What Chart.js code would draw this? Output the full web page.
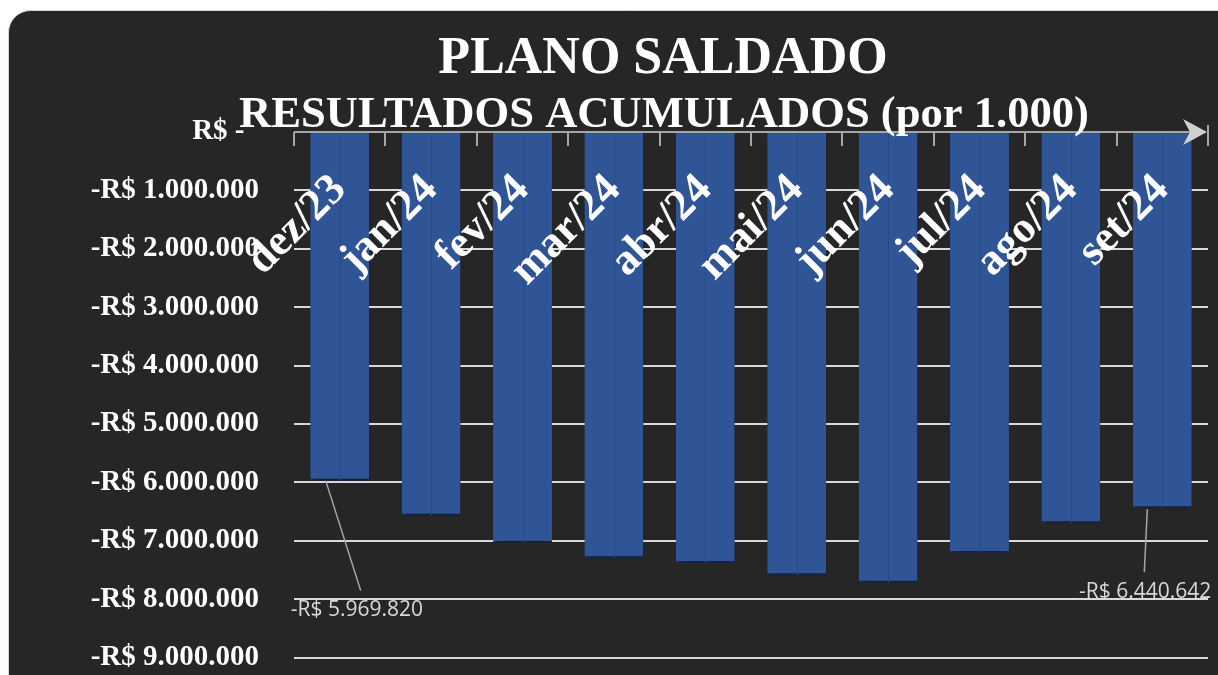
<!DOCTYPE html>
<html>
<head>
<meta charset="utf-8">
<script src="https://cdn.jsdelivr.net/npm/chart.js@4"></script>
<style>
	html, body { margin: 0; padding: 0; background: #ffffff; }
	#wrap { width: 1218px; height: 675px; position: relative; }
</style>
</head>
<body>
<div id="wrap"><canvas id="saldadoChart"></canvas></div>
<script>
const meses = ["dez/23", "jan/24", "fev/24", "mar/24", "abr/24", "mai/24", "jun/24", "jul/24", "ago/24", "set/24"];
const resultados = [-5969820, -6570000, -7030000, -7300000, -7380000, -7590000, -7720000, -7210000, -6700000, -6440642];
const rotulosDados = [0, 9]; // only first and last bars carry a value label
const yMin = -9000000;
const yMax = 0;
const yPasso = 1000000;
const titulo = "PLANO SALDADO";
const subtitulo = "RESULTADOS ACUMULADOS (por 1.000)";

const serif = "'Liberation Serif', 'Times New Roman', serif";

const formatBRL = (v) => {
	if (v === 0) return "R$ -\u00a0\u00a0";
	const s = Math.round(Math.abs(v)).toString().replace(/\B(?=(\d{3})+(?!\d))/g, ".");
	return (v < 0 ? "-" : "") + "R$ " + s;
};

// dark rounded panel behind everything, soft shadow under the bars
const fundo = {
	id: "fundo",
	beforeDraw(chart) {
		const { ctx, width, height } = chart;
		ctx.save();
		ctx.fillStyle = "#ffffff";
		ctx.fillRect(0, 0, width, height);
		ctx.beginPath();
		ctx.roundRect(8.5, 10.5, width + 20, height + 20, 22);
		ctx.fillStyle = "#262626";
		ctx.fill();
		ctx.strokeStyle = "#cfd8e8";
		ctx.lineWidth = 1;
		ctx.stroke();
		ctx.restore();
	},
	beforeDatasetsDraw(chart) {
		const { ctx } = chart;
		ctx.save();
		ctx.shadowColor = "rgba(0,0,0,0.55)";
		ctx.shadowBlur = 6;
		ctx.shadowOffsetX = 2;
		ctx.shadowOffsetY = 2;
	},
	afterDatasetsDraw(chart) {
		chart.ctx.restore();
	},
};

// axis arrow, category labels, data labels, titles
const extras = {
	id: "extras",
	afterDatasetsDraw(chart) {
		const { ctx } = chart;
		const x = chart.scales.x;
		const y = chart.scales.y;
		const meta = chart.getDatasetMeta(0);
		const y0 = y.getPixelForValue(0);

		ctx.save();

		// thin seam in the middle of each bar
		ctx.strokeStyle = "#264a86";
		ctx.lineWidth = 1;
		meta.data.forEach((bar) => {
			ctx.beginPath();
			ctx.moveTo(Math.round(bar.x) + 0.5, bar.base);
			ctx.lineTo(Math.round(bar.x) + 0.5, bar.y);
			ctx.stroke();
		});

		// category labels, rotated, inside the plot
		ctx.fillStyle = "#ffffff";
		ctx.font = "bold 44px " + serif;
		ctx.textAlign = "right";
		ctx.textBaseline = "middle";
		meses.forEach((m, i) => {
			const px = x.getPixelForValue(i);
			ctx.save();
			ctx.translate(px, y0 + 51);
			ctx.rotate(-Math.PI / 4);
			ctx.fillText(m, 0, 0);
			ctx.restore();
		});

		// horizontal axis at zero with ticks and arrow
		const catW = (x.right - x.left) / meses.length;
		ctx.strokeStyle = "#a6a6a6";
		ctx.lineWidth = 2;
		ctx.beginPath();
		ctx.moveTo(x.left, y0);
		ctx.lineTo(x.right - 4, y0);
		for (let i = 0; i <= meses.length; i++) {
			const tx = Math.round(x.left + i * catW);
			ctx.moveTo(tx, y0 - (i === meses.length ? 7 : 0));
			ctx.lineTo(tx, y0 + 14);
		}
		ctx.stroke();
		ctx.fillStyle = "#d0d0d0";
		ctx.beginPath();
		ctx.moveTo(x.right - 1, y0);
		ctx.lineTo(x.right - 25, y0 - 13);
		ctx.lineTo(x.right - 18, y0);
		ctx.lineTo(x.right - 25, y0 + 13);
		ctx.closePath();
		ctx.fill();

		// value labels with leader lines
		ctx.font = "21px 'Open Sans', 'Noto Sans', sans-serif";
		ctx.fillStyle = "#d9d9d9";
		ctx.strokeStyle = "#a6a6a6";
		ctx.lineWidth = 1.5;
		rotulosDados.forEach((i, k) => {
			const bar = meta.data[i];
			ctx.beginPath();
			if (k === 0) {
				ctx.moveTo(bar.x - 14, bar.y);
				ctx.lineTo(bar.x + 21, bar.y + 110);
				ctx.stroke();
				ctx.textAlign = "left";
				ctx.fillText(formatBRL(resultados[i]), bar.x - 49, bar.y + 129);
			} else {
				ctx.moveTo(bar.x - 15, bar.y + 1);
				ctx.lineTo(bar.x - 18, bar.y + 64);
				ctx.stroke();
				ctx.textAlign = "right";
				ctx.fillText(formatBRL(resultados[i]), bar.x + 49, bar.y + 84);
			}
		});

		// titles
		ctx.fillStyle = "#ffffff";
		ctx.textAlign = "center";
		ctx.font = "bold 52px " + serif;
		ctx.fillText(titulo, 663, 60);
		ctx.font = "bold 44.6px " + serif;
		ctx.fillText(subtitulo, 664, 115);

		ctx.restore();
	},
};

const ctx = document.getElementById("saldadoChart").getContext("2d");

new Chart(ctx, {
	type: "bar",
	data: {
		labels: meses,
		datasets: [
			{
				data: resultados,
				backgroundColor: "#2f5597",
				borderColor: "#1f3864",
				borderWidth: { top: 0, left: 0, right: 0, bottom: 2 },
				borderSkipped: "start",
				categoryPercentage: 1,
				barPercentage: 0.645,
			},
		],
	},
	options: {
		responsive: true,
		maintainAspectRatio: false,
		devicePixelRatio: 1,
		animation: false,
		layout: {
			autoPadding: false,
			padding: { top: 132, right: 10, bottom: 17, left: 0 },
		},
		scales: {
			x: {
				display: false,
				offset: true,
			},
			y: {
				min: yMin,
				max: yMax,
				afterFit(scale) {
					scale.width = 294;
				},
				ticks: {
					stepSize: yPasso,
					padding: 0,
					color: "#ffffff",
					font: { family: serif, size: 29, weight: "bold" },
					callback: (v) => formatBRL(v),
				},
				grid: {
					color: (c) => (c.tick && c.tick.value === 0 ? "rgba(0,0,0,0)" : "#d9d9d9"),
					lineWidth: 2,
					drawTicks: true,
					tickLength: 35,
					tickColor: "rgba(0,0,0,0)",
				},
				border: { display: false },
			},
		},
		plugins: {
			legend: { display: false },
			tooltip: { enabled: false },
		},
	},
	plugins: [fundo, extras],
});
</script>
</body>
</html>
